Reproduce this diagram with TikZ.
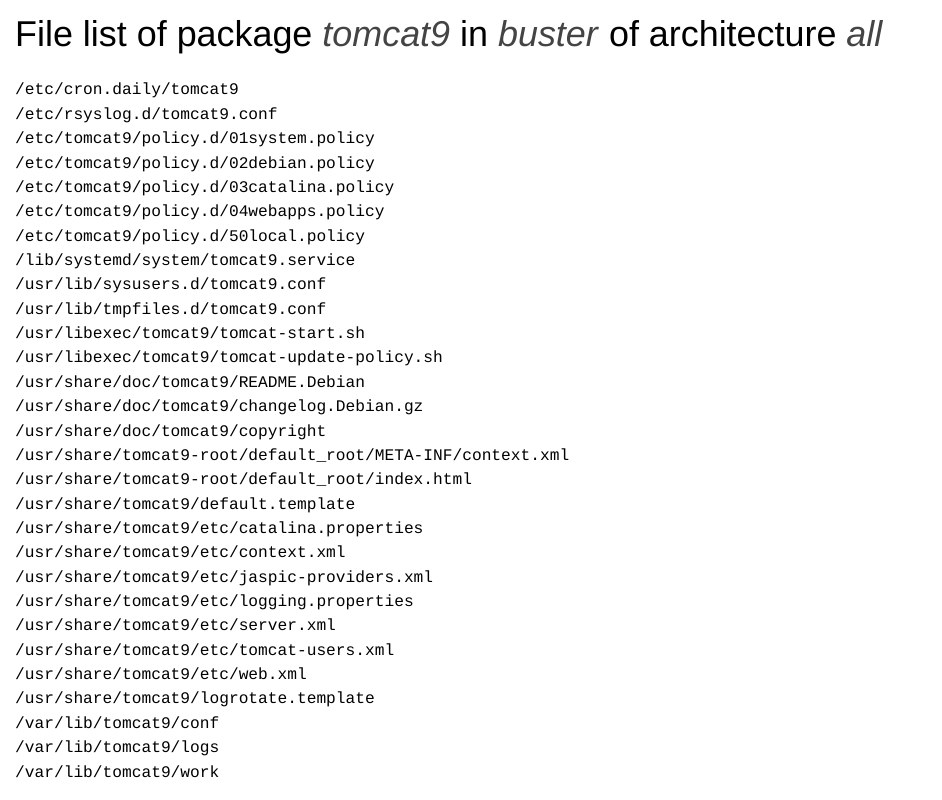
\documentclass[tikz,border=0pt]{standalone}
\usepackage{fontspec}
\setmainfont{Liberation Sans}
\newfontfamily\monofont{Liberation Mono}
\definecolor{emgray}{HTML}{444444}
\begin{document}
\begin{tikzpicture}[x=1pt,y=-1pt,
  titletext/.style={anchor=base west,inner sep=0pt,font=\fontsize{35.9}{40}\selectfont},
  filetext/.style={anchor=base west,inner sep=0pt,font=\monofont\fontsize{16.2}{18}\selectfont}]
\useasboundingbox (0,0) rectangle (942,800);
\fill[white] (0,0) rectangle (942,800);
\node[titletext] (title) at (15,47) {File list of package \textcolor{emgray}{\textit{tomcat9}} in \textcolor{emgray}{\textit{buster}} of architecture \textcolor{emgray}{\textit{all}}};
\foreach \f [count=\i from 0] in {
/etc/cron.daily/tomcat9,
/etc/rsyslog.d/tomcat9.conf,
/etc/tomcat9/policy.d/01system.policy,
/etc/tomcat9/policy.d/02debian.policy,
/etc/tomcat9/policy.d/03catalina.policy,
/etc/tomcat9/policy.d/04webapps.policy,
/etc/tomcat9/policy.d/50local.policy,
/lib/systemd/system/tomcat9.service,
/usr/lib/sysusers.d/tomcat9.conf,
/usr/lib/tmpfiles.d/tomcat9.conf,
/usr/libexec/tomcat9/tomcat-start.sh,
/usr/libexec/tomcat9/tomcat-update-policy.sh,
/usr/share/doc/tomcat9/README.Debian,
/usr/share/doc/tomcat9/changelog.Debian.gz,
/usr/share/doc/tomcat9/copyright,
/usr/share/tomcat9-root/default\_root/META-INF/context.xml,
/usr/share/tomcat9-root/default\_root/index.html,
/usr/share/tomcat9/default.template,
/usr/share/tomcat9/etc/catalina.properties,
/usr/share/tomcat9/etc/context.xml,
/usr/share/tomcat9/etc/jaspic-providers.xml,
/usr/share/tomcat9/etc/logging.properties,
/usr/share/tomcat9/etc/server.xml,
/usr/share/tomcat9/etc/tomcat-users.xml,
/usr/share/tomcat9/etc/web.xml,
/usr/share/tomcat9/logrotate.template,
/var/lib/tomcat9/conf,
/var/lib/tomcat9/logs,
/var/lib/tomcat9/work}
{\node[filetext] (file\i) at (15,{95+24.357*\i}) {\f};}
\end{tikzpicture}
\end{document}
